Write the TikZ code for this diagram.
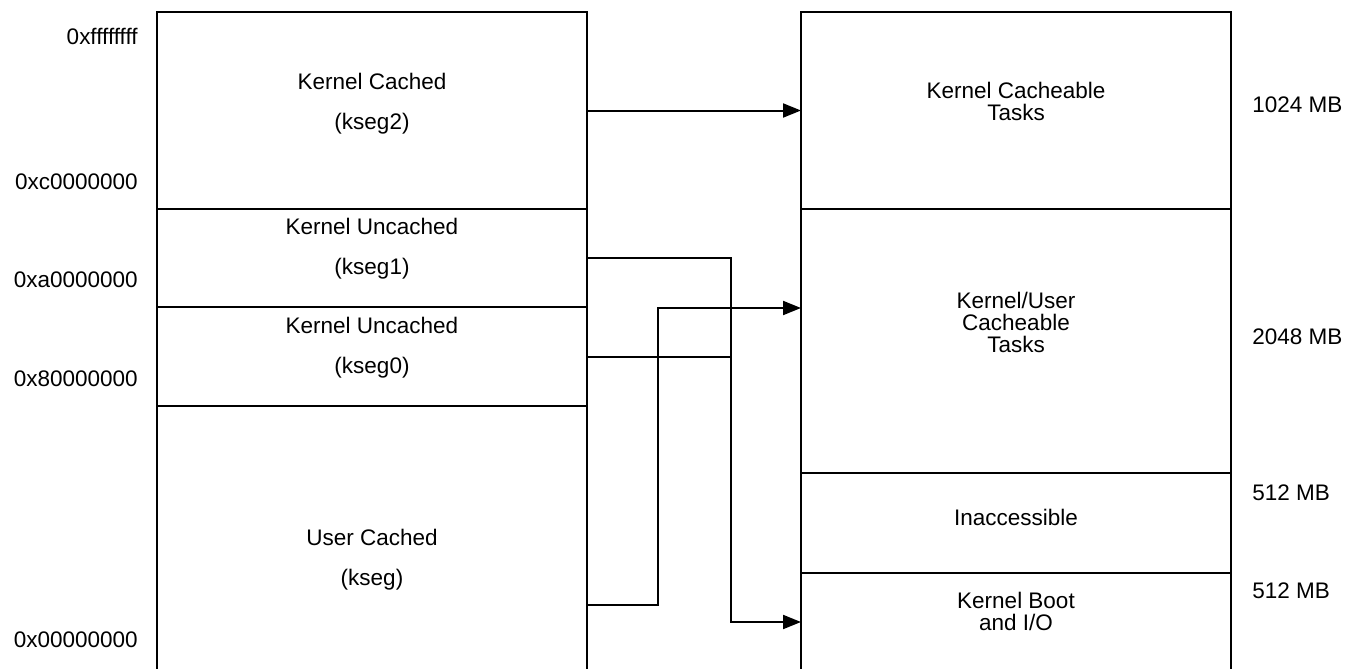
\documentclass[tikz,border=0pt]{standalone}
\usepackage{fontspec}
\setmainfont{Liberation Sans}
\usetikzlibrary{arrows.meta}

\begin{document}
\begin{tikzpicture}[x=1pt, y=-1pt, line width=2pt, >={Triangle[length=18pt, width=14pt]},
		seg/.style={draw, minimum width=430pt, inner sep=0pt, outer sep=0pt},
		txt/.style={align=center, font=\fontsize{22.5}{22}\selectfont},
		addr/.style={anchor=east, font=\fontsize{22.5}{22}\selectfont},
		size/.style={anchor=west, font=\fontsize{22.5}{22}\selectfont}]

		\useasboundingbox (0,0) rectangle (1361,669);

		% virtuelle Adressen
		\node[seg, minimum height=197pt] (kseg2) at (372,110.5) {};
		\node[seg, minimum height=98pt] (kseg1) at (372,258) {};
		\node[seg, minimum height=99pt] (kseg0) at (372,356.5) {};
		\node[seg, minimum height=266pt] (kseg) at (372,539) {};

		\node[txt] (t2) at (372,104) {Kernel Cached\\[18pt](kseg2)};
		\node[txt] (t1) at (372,249) {Kernel Uncached\\[18pt](kseg1)};
		\node[txt] (t0) at (372,348) {Kernel Uncached\\[18pt](kseg0)};
		\node[txt] (tu) at (372,560) {User Cached\\[18pt](kseg)};

		% physische Bereiche
		\node[seg, minimum height=197pt] (kcache) at (1016,110.5) {};
		\node[seg, minimum height=264pt] (kuser) at (1016,341) {};
		\node[seg, minimum height=100pt] (noacc) at (1016,523) {};
		\node[seg, minimum height=98pt] (kboot) at (1016,622) {};

		\node[txt] (tc) at (1016,101) {Kernel Cacheable\\Tasks};
		\node[txt] (tk) at (1016,322) {Kernel/User\\Cacheable\\Tasks};
		\node[txt] (tn) at (1016,517) {Inaccessible};
		\node[txt] (tb) at (1016,611) {Kernel Boot\\and I/O};

		\foreach \y/\a in {
				36/0xffffffff,
				182/0xc0000000,
				280/0xa0000000,
				379/0x80000000,
				640/0x00000000
			} {
				\node[addr] (a\a) at (142,\y) {\a};
			}

		\foreach \y/\s/\n in {
				105/1024 MB/s1,
				337/2048 MB/s2,
				493/512 MB/s3,
				591/512 MB/s4
			} {
				\node[size] (\n) at (1248,\y) {\s};
			}

		\coordinate (bus) at (731,0);
		\coordinate (kseg out) at (kseg.east |- 0,605);
		\coordinate (kuser in) at (kuser.west |- 0,308);

		\draw[->] (kseg2) -- (kcache);
		\draw[->] (kseg1.east) -- (kseg1.east -| bus) |- (kboot.west);
		\draw (kseg0.east) -- (kseg0.east -| bus);
		\draw[->] (kseg out) -- ++(71,0) |- (kuser in);
	\end{tikzpicture}
\end{document}
